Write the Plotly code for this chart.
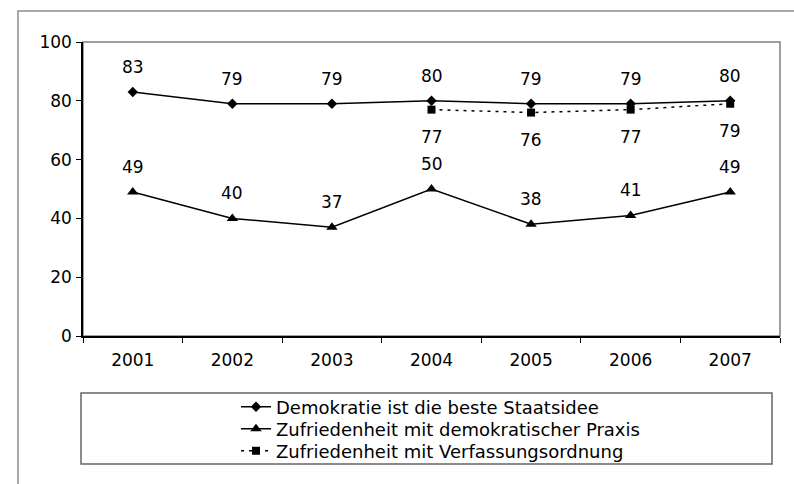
import plotly.graph_objects as go

years = ["2001", "2002", "2003", "2004", "2005", "2006", "2007"]
staatsidee = [83, 79, 79, 80, 79, 79, 80]
praxis = [49, 40, 37, 50, 38, 41, 49]
verf_years = ["2004", "2005", "2006", "2007"]
verfassung = [77, 76, 77, 79]

names = ["Demokratie ist die beste Staatsidee",
         "Zufriedenheit mit demokratischer Praxis",
         "Zufriedenheit mit Verfassungsordnung"]

FONT = "DejaVu Sans, Verdana, sans-serif"
FS = 17

L, R, T, B = 83, 14, 42, 148
W, H = 794, 484
pw, ph = W - L - R, H - T - B


def px(v):
    return (v - L) / pw


def py(v):
    return (H - B - v) / ph


fig = go.Figure()
fig.add_trace(go.Scatter(x=years, y=staatsidee, name=names[0], mode="lines+markers",
                         line=dict(color="black", width=1.5), legend="legend",
                         marker=dict(symbol="diamond", size=8, color="black")))
fig.add_trace(go.Scatter(x=years, y=praxis, name=names[1], mode="lines+markers",
                         line=dict(color="black", width=1.5), legend="legend2",
                         marker=dict(symbol="triangle-up", size=10, color="black")))
fig.add_trace(go.Scatter(x=verf_years, y=verfassung, name=names[2], mode="lines+markers",
                         line=dict(color="black", width=1.5, dash="3px,5px"), legend="legend3",
                         marker=dict(symbol="square", size=8, color="black")))

ann = []


def add_labels(xs, ys, shift):
    for xv, yv in zip(xs, ys):
        ann.append(dict(x=years.index(xv), y=yv, xref="x", yref="y", text=str(yv),
                        showarrow=False, yshift=shift,
                        font=dict(family=FONT, size=FS, color="black")))


add_labels(years, staatsidee, 25)
add_labels(years, praxis, 25)
add_labels(verf_years, verfassung, -27)

shapes = [
    # outer chart frame
    dict(type="rect", xref="paper", yref="paper", x0=px(18), x1=px(820), y0=py(11), y1=py(520),
         line=dict(color="#8c8c8c", width=1.5), layer="below"),
    # plot area border
    dict(type="rect", xref="paper", yref="paper", x0=0, x1=1, y0=0, y1=1,
         line=dict(color="#808080", width=1.5), layer="below"),
    # legend box
    dict(type="rect", xref="paper", yref="paper", x0=px(81), x1=px(772), y0=py(393), y1=py(464),
         line=dict(color="#666666", width=1.5), layer="below"),
]


def leg(row_center):
    return dict(x=px(236), xanchor="left", y=py(row_center), yanchor="middle",
                bgcolor="rgba(0,0,0,0)", borderwidth=0,
                font=dict(family=FONT, size=18, color="black"))


fig.update_layout(
    width=W, height=H,
    margin=dict(l=L, r=R, t=T, b=B),
    paper_bgcolor="white", plot_bgcolor="rgba(0,0,0,0)",
    font=dict(family=FONT, size=FS, color="black"),
    annotations=ann,
    shapes=shapes,
    showlegend=True,
    legend=leg(407), legend2=leg(429), legend3=leg(451),
    xaxis=dict(type="category", tickson="boundaries", ticks="outside", ticklen=5,
               tickcolor="black", showline=True, linecolor="black", linewidth=1.5,
               showgrid=False, zeroline=False, ticklabelstandoff=8,
               range=[-0.5, 6.5]),
    yaxis=dict(range=[0, 100], dtick=20, ticks="outside", ticklen=5, tickcolor="black",
               showline=True, linecolor="black", linewidth=1.5, showgrid=False,
               zeroline=False, ticklabelstandoff=1),
)

fig.write_html("out.html", config={"displayModeBar": False},
               post_script="document.body.style.margin='0';")
